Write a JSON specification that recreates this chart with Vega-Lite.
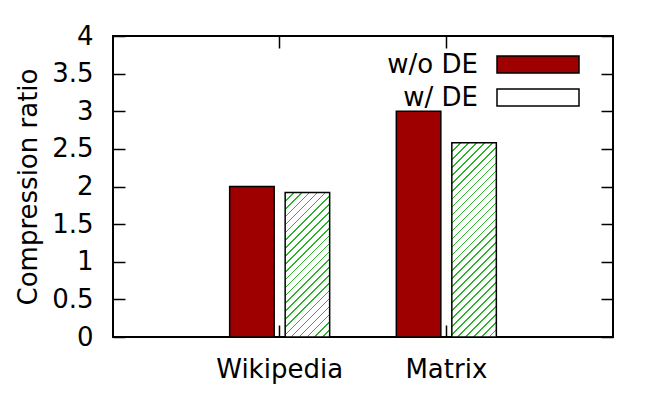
{
  "$schema": "https://vega.github.io/schema/vega-lite/v6.json",
  "width": 500,
  "height": 301,
  "autosize": {"type": "none"},
  "padding": {"left": 113, "top": 36, "right": 51, "bottom": 62},
  "config": {
    "view": {"stroke": "black", "strokeWidth": 2},
    "font": "DejaVu Sans",
    "axis": {
      "domain": false,
      "grid": false,
      "tickColor": "black",
      "tickWidth": 1.5,
      "tickSize": -12,
      "labelFont": "DejaVu Sans",
      "labelFontSize": 26,
      "labelColor": "black",
      "titleFont": "DejaVu Sans",
      "titleFontSize": 26,
      "titleFontWeight": "normal",
      "titleColor": "black"
    }
  },
  "data": {
    "values": [
      {"dataset": "Wikipedia", "series": "w/o DE", "ratio": 2.0},
      {"dataset": "Wikipedia", "series": "w/ DE", "ratio": 1.92},
      {"dataset": "Matrix", "series": "w/o DE", "ratio": 3.0},
      {"dataset": "Matrix", "series": "w/ DE", "ratio": 2.58}
    ]
  },
  "layer": [
    {
      "mark": {"type": "bar", "stroke": "black", "strokeWidth": 1.5},
      "encoding": {
        "x": {
          "field": "dataset", "type": "nominal", "sort": ["Wikipedia", "Matrix"],
          "scale": {"type": "band", "paddingInner": 0.4, "paddingOuter": 0.7},
          "axis": {"orient": "bottom", "title": null, "labelAngle": 0, "labelPadding": 31.5}
        },
        "xOffset": {
          "field": "series", "type": "nominal",
          "scale": {"domain": ["w/o DE", "w/ DE"], "paddingInner": 0.198, "paddingOuter": 0}
        },
        "y": {
          "field": "ratio", "type": "quantitative",
          "scale": {"domain": [0, 4], "nice": false, "zero": true},
          "axis": {"orient": "left", "title": "Compression ratio", "values": [0, 0.5, 1, 1.5, 2, 2.5, 3, 3.5, 4], "format": "~g", "labelPadding": 32, "titlePadding": 10}
        },
        "fill": {
          "field": "series", "type": "nominal",
          "scale": {"domain": ["w/o DE", "w/ DE"], "range": ["#9e0000", "#ffffff"]},
          "condition": [
            {"test": "datum.series === 'w/ DE' && datum.dataset === 'Matrix'", "value": {"id": "hatchMatrix", "gradient": "linear", "x1": 0, "y1": 0, "x2": 0.2677, "y2": 1.1678, "stops": [
              {"offset": 0, "color": "#2cb52c"}, {"offset": 0.0067, "color": "#2cb52c"}, {"offset": 0.0067, "color": "#ffffff"}, {"offset": 0.0333, "color": "#ffffff"},
              {"offset": 0.0333, "color": "#2cb52c"}, {"offset": 0.04, "color": "#2cb52c"}, {"offset": 0.04, "color": "#ffffff"}, {"offset": 0.0667, "color": "#ffffff"},
              {"offset": 0.0667, "color": "#2cb52c"}, {"offset": 0.0733, "color": "#2cb52c"}, {"offset": 0.0733, "color": "#ffffff"}, {"offset": 0.1, "color": "#ffffff"},
              {"offset": 0.1, "color": "#2cb52c"}, {"offset": 0.1067, "color": "#2cb52c"}, {"offset": 0.1067, "color": "#ffffff"}, {"offset": 0.1333, "color": "#ffffff"},
              {"offset": 0.1333, "color": "#2cb52c"}, {"offset": 0.14, "color": "#2cb52c"}, {"offset": 0.14, "color": "#ffffff"}, {"offset": 0.1667, "color": "#ffffff"},
              {"offset": 0.1667, "color": "#2cb52c"}, {"offset": 0.1733, "color": "#2cb52c"}, {"offset": 0.1733, "color": "#ffffff"}, {"offset": 0.2, "color": "#ffffff"},
              {"offset": 0.2, "color": "#2cb52c"}, {"offset": 0.2067, "color": "#2cb52c"}, {"offset": 0.2067, "color": "#ffffff"}, {"offset": 0.2333, "color": "#ffffff"},
              {"offset": 0.2333, "color": "#2cb52c"}, {"offset": 0.24, "color": "#2cb52c"}, {"offset": 0.24, "color": "#ffffff"}, {"offset": 0.2667, "color": "#ffffff"},
              {"offset": 0.2667, "color": "#2cb52c"}, {"offset": 0.2733, "color": "#2cb52c"}, {"offset": 0.2733, "color": "#ffffff"}, {"offset": 0.3, "color": "#ffffff"},
              {"offset": 0.3, "color": "#2cb52c"}, {"offset": 0.3067, "color": "#2cb52c"}, {"offset": 0.3067, "color": "#ffffff"}, {"offset": 0.3333, "color": "#ffffff"},
              {"offset": 0.3333, "color": "#2cb52c"}, {"offset": 0.34, "color": "#2cb52c"}, {"offset": 0.34, "color": "#ffffff"}, {"offset": 0.3667, "color": "#ffffff"},
              {"offset": 0.3667, "color": "#2cb52c"}, {"offset": 0.3733, "color": "#2cb52c"}, {"offset": 0.3733, "color": "#ffffff"}, {"offset": 0.4, "color": "#ffffff"},
              {"offset": 0.4, "color": "#2cb52c"}, {"offset": 0.4067, "color": "#2cb52c"}, {"offset": 0.4067, "color": "#ffffff"}, {"offset": 0.4333, "color": "#ffffff"},
              {"offset": 0.4333, "color": "#2cb52c"}, {"offset": 0.44, "color": "#2cb52c"}, {"offset": 0.44, "color": "#ffffff"}, {"offset": 0.4667, "color": "#ffffff"},
              {"offset": 0.4667, "color": "#2cb52c"}, {"offset": 0.4733, "color": "#2cb52c"}, {"offset": 0.4733, "color": "#ffffff"}, {"offset": 0.5, "color": "#ffffff"},
              {"offset": 0.5, "color": "#2cb52c"}, {"offset": 0.5067, "color": "#2cb52c"}, {"offset": 0.5067, "color": "#ffffff"}, {"offset": 0.5333, "color": "#ffffff"},
              {"offset": 0.5333, "color": "#2cb52c"}, {"offset": 0.54, "color": "#2cb52c"}, {"offset": 0.54, "color": "#ffffff"}, {"offset": 0.5667, "color": "#ffffff"},
              {"offset": 0.5667, "color": "#2cb52c"}, {"offset": 0.5733, "color": "#2cb52c"}, {"offset": 0.5733, "color": "#ffffff"}, {"offset": 0.6, "color": "#ffffff"},
              {"offset": 0.6, "color": "#2cb52c"}, {"offset": 0.6067, "color": "#2cb52c"}, {"offset": 0.6067, "color": "#ffffff"}, {"offset": 0.6333, "color": "#ffffff"},
              {"offset": 0.6333, "color": "#2cb52c"}, {"offset": 0.64, "color": "#2cb52c"}, {"offset": 0.64, "color": "#ffffff"}, {"offset": 0.6667, "color": "#ffffff"},
              {"offset": 0.6667, "color": "#2cb52c"}, {"offset": 0.6733, "color": "#2cb52c"}, {"offset": 0.6733, "color": "#ffffff"}, {"offset": 0.7, "color": "#ffffff"},
              {"offset": 0.7, "color": "#2cb52c"}, {"offset": 0.7067, "color": "#2cb52c"}, {"offset": 0.7067, "color": "#ffffff"}, {"offset": 0.7333, "color": "#ffffff"},
              {"offset": 0.7333, "color": "#2cb52c"}, {"offset": 0.74, "color": "#2cb52c"}, {"offset": 0.74, "color": "#ffffff"}, {"offset": 0.7667, "color": "#ffffff"},
              {"offset": 0.7667, "color": "#2cb52c"}, {"offset": 0.7733, "color": "#2cb52c"}, {"offset": 0.7733, "color": "#ffffff"}, {"offset": 0.8, "color": "#ffffff"},
              {"offset": 0.8, "color": "#2cb52c"}, {"offset": 0.8067, "color": "#2cb52c"}, {"offset": 0.8067, "color": "#ffffff"}, {"offset": 0.8333, "color": "#ffffff"},
              {"offset": 0.8333, "color": "#2cb52c"}, {"offset": 0.84, "color": "#2cb52c"}, {"offset": 0.84, "color": "#ffffff"}, {"offset": 0.8667, "color": "#ffffff"},
              {"offset": 0.8667, "color": "#2cb52c"}, {"offset": 0.8733, "color": "#2cb52c"}, {"offset": 0.8733, "color": "#ffffff"}, {"offset": 0.9, "color": "#ffffff"},
              {"offset": 0.9, "color": "#2cb52c"}, {"offset": 0.9067, "color": "#2cb52c"}, {"offset": 0.9067, "color": "#ffffff"}, {"offset": 0.9333, "color": "#ffffff"},
              {"offset": 0.9333, "color": "#2cb52c"}, {"offset": 0.94, "color": "#2cb52c"}, {"offset": 0.94, "color": "#ffffff"}, {"offset": 0.9667, "color": "#ffffff"},
              {"offset": 0.9667, "color": "#2cb52c"}, {"offset": 0.9733, "color": "#2cb52c"}, {"offset": 0.9733, "color": "#ffffff"}, {"offset": 1, "color": "#ffffff"}
            ]}},
            {"test": "datum.series === 'w/ DE'", "value": {"id": "hatchWiki", "gradient": "linear", "x1": 0, "y1": 0, "x2": 0.368, "y2": 1.1947, "stops": [
              {"offset": 0, "color": "#2cb52c"}, {"offset": 0.0083, "color": "#2cb52c"}, {"offset": 0.0083, "color": "#ffffff"}, {"offset": 0.0417, "color": "#ffffff"},
              {"offset": 0.0417, "color": "#2cb52c"}, {"offset": 0.05, "color": "#2cb52c"}, {"offset": 0.05, "color": "#ffffff"}, {"offset": 0.0833, "color": "#ffffff"},
              {"offset": 0.0833, "color": "#2cb52c"}, {"offset": 0.0917, "color": "#2cb52c"}, {"offset": 0.0917, "color": "#ffffff"}, {"offset": 0.125, "color": "#ffffff"},
              {"offset": 0.125, "color": "#2cb52c"}, {"offset": 0.1333, "color": "#2cb52c"}, {"offset": 0.1333, "color": "#ffffff"}, {"offset": 0.1667, "color": "#ffffff"},
              {"offset": 0.1667, "color": "#2cb52c"}, {"offset": 0.175, "color": "#2cb52c"}, {"offset": 0.175, "color": "#ffffff"}, {"offset": 0.2083, "color": "#ffffff"},
              {"offset": 0.2083, "color": "#2cb52c"}, {"offset": 0.2167, "color": "#2cb52c"}, {"offset": 0.2167, "color": "#ffffff"}, {"offset": 0.25, "color": "#ffffff"},
              {"offset": 0.25, "color": "#2cb52c"}, {"offset": 0.2583, "color": "#2cb52c"}, {"offset": 0.2583, "color": "#ffffff"}, {"offset": 0.2917, "color": "#ffffff"},
              {"offset": 0.2917, "color": "#2cb52c"}, {"offset": 0.3, "color": "#2cb52c"}, {"offset": 0.3, "color": "#ffffff"}, {"offset": 0.3333, "color": "#ffffff"},
              {"offset": 0.3333, "color": "#2cb52c"}, {"offset": 0.3417, "color": "#2cb52c"}, {"offset": 0.3417, "color": "#ffffff"}, {"offset": 0.375, "color": "#ffffff"},
              {"offset": 0.375, "color": "#2cb52c"}, {"offset": 0.3833, "color": "#2cb52c"}, {"offset": 0.3833, "color": "#ffffff"}, {"offset": 0.4167, "color": "#ffffff"},
              {"offset": 0.4167, "color": "#2cb52c"}, {"offset": 0.425, "color": "#2cb52c"}, {"offset": 0.425, "color": "#ffffff"}, {"offset": 0.4583, "color": "#ffffff"},
              {"offset": 0.4583, "color": "#2cb52c"}, {"offset": 0.4667, "color": "#2cb52c"}, {"offset": 0.4667, "color": "#ffffff"}, {"offset": 0.5, "color": "#ffffff"},
              {"offset": 0.5, "color": "#2cb52c"}, {"offset": 0.5083, "color": "#2cb52c"}, {"offset": 0.5083, "color": "#ffffff"}, {"offset": 0.5417, "color": "#ffffff"},
              {"offset": 0.5417, "color": "#2cb52c"}, {"offset": 0.55, "color": "#2cb52c"}, {"offset": 0.55, "color": "#ffffff"}, {"offset": 0.5833, "color": "#ffffff"},
              {"offset": 0.5833, "color": "#2cb52c"}, {"offset": 0.5917, "color": "#2cb52c"}, {"offset": 0.5917, "color": "#ffffff"}, {"offset": 0.625, "color": "#ffffff"},
              {"offset": 0.625, "color": "#2cb52c"}, {"offset": 0.6333, "color": "#2cb52c"}, {"offset": 0.6333, "color": "#ffffff"}, {"offset": 0.6667, "color": "#ffffff"},
              {"offset": 0.6667, "color": "#2cb52c"}, {"offset": 0.675, "color": "#2cb52c"}, {"offset": 0.675, "color": "#ffffff"}, {"offset": 0.7083, "color": "#ffffff"},
              {"offset": 0.7083, "color": "#2cb52c"}, {"offset": 0.7167, "color": "#2cb52c"}, {"offset": 0.7167, "color": "#ffffff"}, {"offset": 0.75, "color": "#ffffff"},
              {"offset": 0.75, "color": "#2cb52c"}, {"offset": 0.7583, "color": "#2cb52c"}, {"offset": 0.7583, "color": "#ffffff"}, {"offset": 0.7917, "color": "#ffffff"},
              {"offset": 0.7917, "color": "#2cb52c"}, {"offset": 0.8, "color": "#2cb52c"}, {"offset": 0.8, "color": "#ffffff"}, {"offset": 0.8333, "color": "#ffffff"},
              {"offset": 0.8333, "color": "#2cb52c"}, {"offset": 0.8417, "color": "#2cb52c"}, {"offset": 0.8417, "color": "#ffffff"}, {"offset": 0.875, "color": "#ffffff"},
              {"offset": 0.875, "color": "#2cb52c"}, {"offset": 0.8833, "color": "#2cb52c"}, {"offset": 0.8833, "color": "#ffffff"}, {"offset": 0.9167, "color": "#ffffff"},
              {"offset": 0.9167, "color": "#2cb52c"}, {"offset": 0.925, "color": "#2cb52c"}, {"offset": 0.925, "color": "#ffffff"}, {"offset": 0.9583, "color": "#ffffff"},
              {"offset": 0.9583, "color": "#2cb52c"}, {"offset": 0.9667, "color": "#2cb52c"}, {"offset": 0.9667, "color": "#ffffff"}, {"offset": 1, "color": "#ffffff"}
            ]}}
          ],
          "legend": {
            "orient": "none", "legendX": 339, "legendY": 15.5, "title": null, "padding": 0,
            "labelFont": "DejaVu Sans", "labelFontSize": 26, "labelColor": "black", "labelAlign": "right", "labelOffset": 0,
            "symbolType": "M3.2,-0.85H11.4V0.85H3.2Z", "symbolSize": 400, "symbolStrokeColor": "black", "symbolStrokeWidth": 1.5, "symbolOpacity": 1,
            "rowPadding": 7,
            "encode": {"symbols": {"update": {
              "stroke": {"value": "black"},
              "strokeWidth": {"value": 1.5}
            }}}
          }
        }
      }
    },
    {
      "mark": {"type": "bar", "opacity": 0},
      "encoding": {
        "x": {
          "field": "dataset", "type": "nominal", "sort": ["Wikipedia", "Matrix"],
          "scale": {"type": "band", "paddingInner": 0.4, "paddingOuter": 0.7},
          "axis": {"orient": "top", "title": null, "labels": false}
        },
        "y": {
          "field": "ratio", "type": "quantitative",
          "scale": {"domain": [0, 4], "nice": false, "zero": true},
          "axis": {"orient": "right", "title": null, "labels": false, "values": [0, 0.5, 1, 1.5, 2, 2.5, 3, 3.5, 4]}
        }
      }
    }
  ],
  "resolve": {"axis": {"x": "independent", "y": "independent"}}
}
